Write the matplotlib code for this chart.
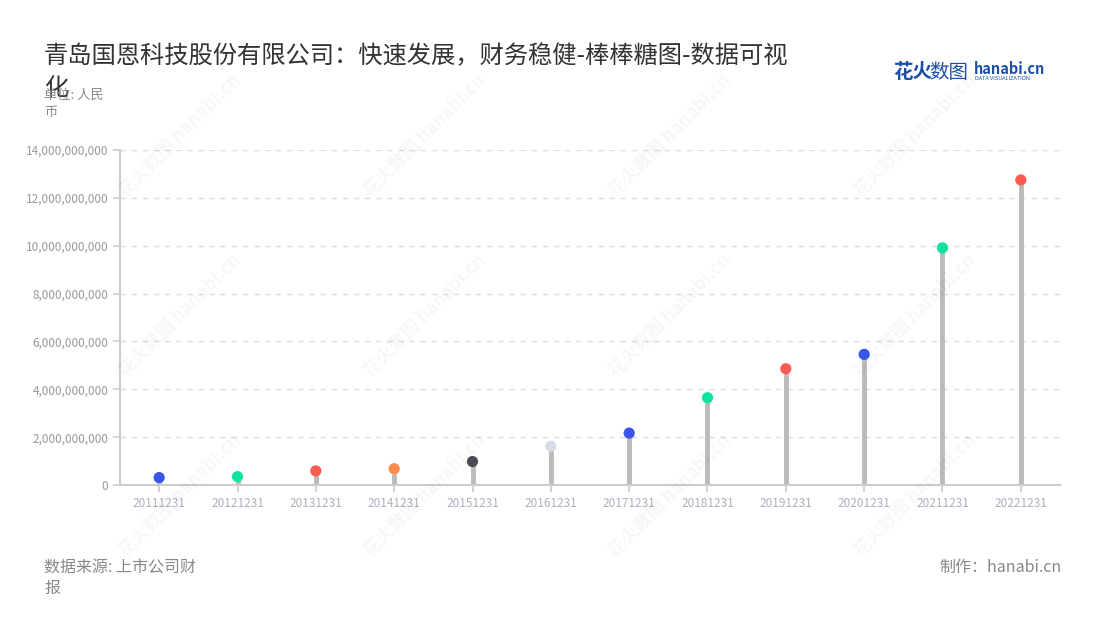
import numpy as np
import matplotlib.pyplot as plt
from matplotlib.ticker import FuncFormatter

plt.rcParams['font.family'] = ['Noto Sans CJK SC', 'DejaVu Sans']

# data (unit: RMB)
dates = ['20111231', '20121231', '20131231', '20141231', '20151231', '20161231',
         '20171231', '20181231', '20191231', '20201231', '20211231', '20221231']
values = [0.31e9, 0.35e9, 0.59e9, 0.68e9, 0.98e9, 1.62e9,
          2.17e9, 3.65e9, 4.86e9, 5.46e9, 9.91e9, 12.75e9]
dot_colors = ['#3a55eb', '#0de3a0', '#fb5b50', '#fd8c50', '#4b4b57', '#d8dce8',
              '#3a55eb', '#0de3a0', '#fb5b50', '#3a55eb', '#0de3a0', '#fb5b50']

fig = plt.figure(figsize=(11, 6.2), dpi=100)
ax = fig.add_axes([120/1100, 1-485/620, 940/1100, 335/620])

x = np.arange(len(dates))

# watermark
for cx in [180, 425, 670, 915]:
    for cy in [135, 315, 495]:
        fig.text(cx/1100, 1-cy/620, '花火数图 hanabi.cn', rotation=45, fontsize=13,
                 color='#000000', alpha=0.035, ha='center', va='center',
                 fontweight='bold', zorder=0)

ax.vlines(x, 0, values, color='#bbbbbb', linewidth=3.5, zorder=2)
ax.scatter(x, values, s=65, c=dot_colors, zorder=3, linewidths=0)

ax.set_xlim(-0.5, len(dates)-0.5)
ax.set_ylim(0, 14e9)
ax.set_yticks(np.arange(0, 14e9+1, 2e9))
ax.yaxis.set_major_formatter(FuncFormatter(lambda v, p: f'{int(v):,}'))
ax.set_xticks(x)
ax.set_xticklabels(dates)

ax.grid(axis='y', color='#dddddd', linestyle=(0, (4, 4)), linewidth=1)
ax.set_axisbelow(True)
for s in ['top', 'right']:
    ax.spines[s].set_visible(False)
for s in ['left', 'bottom']:
    ax.spines[s].set_color('#cccccc')
    ax.spines[s].set_linewidth(1.5)
ax.tick_params(axis='y', colors='#cccccc', labelcolor='#999999', labelsize=8.5, length=5, width=1.2)
ax.tick_params(axis='x', colors='#cccccc', labelcolor='#aab0c0', labelsize=8.5, length=5, width=1.2)

fig.text(44/1100, 1-43/620, '青岛国恩科技股份有限公司：快速发展，财务稳健-棒棒糖图-数据可视\n化',
         fontsize=17.5, color='#333333', ha='left', va='top', linespacing=1.3)
fig.text(44/1100, 1-104/620, '单位: 人民\n币', fontsize=9.5, color='#888888',
         ha='left', va='center', linespacing=1.35)
fig.text(44/1100, 1-578/620, '数据来源: 上市公司财\n报', fontsize=11.5, color='#888888',
         ha='left', va='center', linespacing=1.3)
fig.text(1062/1100, 1-567/620, '制作：hanabi.cn', fontsize=11.5, color='#888888',
         ha='right', va='center')

# logo
fig.text(893/1100, 1-72/620, '花火', fontsize=14, color='#1e4fa8', fontweight='bold',
         ha='left', va='center')
fig.text(929/1100, 1-72/620, '数图', fontsize=14, color='#1e4fa8', ha='left', va='center')
fig.text(974/1100, 1-69/620, 'hanabi.cn', fontsize=10.5, color='#1e4fa8', fontweight='bold',
         ha='left', va='center')
fig.text(975/1100, 1-79/620, 'DATA VISUALIZATION', fontsize=4, color='#1e4fa8',
         ha='left', va='center')

fig.savefig('out.png', dpi=100)
